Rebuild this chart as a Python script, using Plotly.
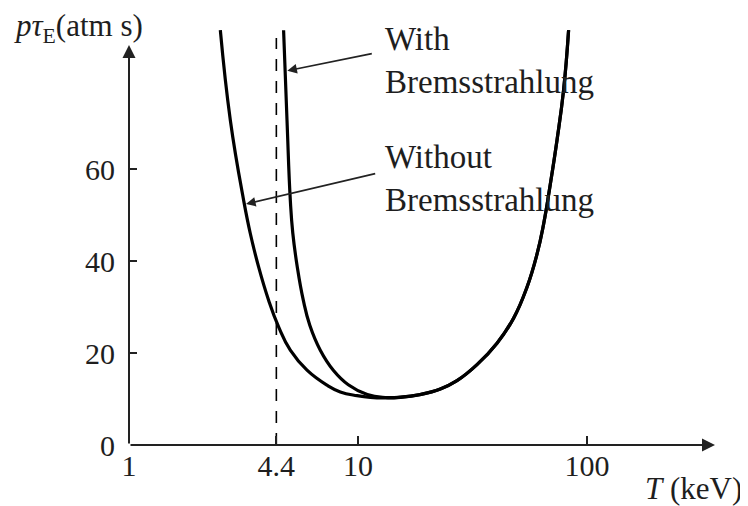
import plotly.graph_objects as go

# Temperature T (keV) and p*tau_E (atm s)
t_without = [2.505, 2.770, 3.166, 3.386, 3.681, 4.070, 4.501, 5.063, 5.988, 7.322,
             8.370, 9.900, 11.32, 13.16, 15.30, 18.71, 22.88, 27.06, 33.09, 40.46,
             47.81, 54.70, 60.49, 64.64, 69.14, 73.96, 79.02, 83.11]
p_without = [90.17, 70.61, 53.22, 45.98, 38.72, 31.48, 25.67, 20.61, 16.26, 13.00,
             11.54, 10.72, 10.33, 10.22, 10.35, 10.96, 12.17, 13.98, 17.46, 22.13,
             27.57, 34.30, 41.48, 48.00, 56.70, 66.26, 77.13, 90.17]

t_with = [4.732, 4.898, 5.063, 5.192, 5.433, 5.769, 6.159, 6.845, 7.801, 9.070,
          10.98, 13.16, 15.30, 18.71, 22.88, 27.06, 33.09, 40.46,
          47.81, 54.70, 60.49, 64.64, 69.14, 73.96, 79.02, 83.11]
p_with = [90.17, 70.61, 53.22, 46.04, 38.65, 31.48, 26.04, 20.61, 16.26, 13.11,
          10.98, 10.33, 10.39, 10.98, 12.18, 13.99, 17.47, 22.14,
          27.58, 34.31, 41.49, 48.01, 56.71, 66.27, 77.14, 90.17]

t_ignition = 4.4
x_tickvals = [1, 4.4, 10, 100]
x_ticktext = ["1", "4.4", "10", "100"]
y_tickvals = [0, 20, 40, 60]

FONT = "Liberation Serif"
TXT = "#1e1e1e"

OFF = 8  # page body margin
W, H = 740, 498
L, R, T, B = 121, 28, 17, 61
pw, ph = W - L - R, H - T - B
DEC = 229.0   # pixels per decade
UNIT = 4.6    # pixels per atm s


def px(xp):
    return (xp - OFF - L) / pw


def py(yp):
    return (H - B - (yp - OFF)) / ph


fig = go.Figure()
fig.add_trace(go.Scatter(x=[t_ignition, t_ignition], y=[0, 88.5], mode="lines",
                         line=dict(color="black", width=1.6, dash="12px,10px"),
                         hoverinfo="skip"))
fig.add_trace(go.Scatter(x=t_without, y=p_without, mode="lines",
                         line=dict(color="black", width=3.2, shape="spline", smoothing=1.3),
                         name="Without Bremsstrahlung"))
fig.add_trace(go.Scatter(x=t_with, y=p_with, mode="lines",
                         line=dict(color="black", width=3.2, shape="spline", smoothing=1.3),
                         name="With Bremsstrahlung"))

annotations = [
    # axes as arrows
    dict(x=px(715), y=py(445), xref="paper", yref="paper", ax=-(715 - 129), ay=0,
         text="", showarrow=True, arrowhead=2, arrowsize=1.3, arrowwidth=2,
         arrowcolor="#222", standoff=0, startstandoff=0),
    dict(x=px(129), y=py(45), xref="paper", yref="paper", ax=0, ay=400,
         text="", showarrow=True, arrowhead=2, arrowsize=1.3, arrowwidth=2,
         arrowcolor="#222", standoff=0, startstandoff=0),
    # label arrows
    dict(x=px(287.3), y=py(70.7), xref="paper", yref="paper", ax=86, ay=-17.4,
         text="", showarrow=True, arrowhead=2, arrowsize=1.2, arrowwidth=1.6,
         arrowcolor="#222", standoff=0),
    dict(x=px(246), y=py(204), xref="paper", yref="paper", ax=130.7, ay=-30.7,
         text="", showarrow=True, arrowhead=2, arrowsize=1.2, arrowwidth=1.6,
         arrowcolor="#222", standoff=0),
    # texts
    dict(x=px(383), y=py(60), xref="paper", yref="paper", xanchor="left", yanchor="middle",
         text="With<br>Bremsstrahlung", showarrow=False, align="left",
         font=dict(family=FONT, size=33, color=TXT)),
    dict(x=px(383), y=py(178), xref="paper", yref="paper", xanchor="left", yanchor="middle",
         text="Without<br>Bremsstrahlung", showarrow=False, align="left",
         font=dict(family=FONT, size=33, color=TXT)),
    dict(x=px(12), y=py(28), xref="paper", yref="paper", xanchor="left", yanchor="middle",
         text="<i>pτ</i><sub>E</sub>(atm s)", showarrow=False,
         font=dict(family=FONT, size=31, color=TXT)),
    dict(x=px(744), y=py(488), xref="paper", yref="paper", xanchor="right", yanchor="middle",
         text="<i>T</i> (keV)", showarrow=False,
         font=dict(family=FONT, size=31, color=TXT)),
]

fig.update_layout(
    width=W, height=H,
    margin=dict(l=L, r=R, t=T, b=B),
    paper_bgcolor="white", plot_bgcolor="white",
    showlegend=False,
    annotations=annotations,
    xaxis=dict(type="log", range=[0, pw / DEC],
               showgrid=False, zeroline=False, showline=False,
               tickvals=x_tickvals, ticktext=x_ticktext,
               ticks="inside", ticklen=9, tickwidth=2, tickcolor="#222",
               ticklabelstandoff=0,
               tickfont=dict(family=FONT, size=30, color=TXT)),
    yaxis=dict(range=[0, ph / UNIT],
               showgrid=False, zeroline=False, showline=False,
               tickvals=y_tickvals,
               ticks="inside", ticklen=8, tickwidth=2, tickcolor="#222",
               ticklabelstandoff=13,
               tickfont=dict(family=FONT, size=30, color=TXT)),
)

fig.write_html("out.html")
